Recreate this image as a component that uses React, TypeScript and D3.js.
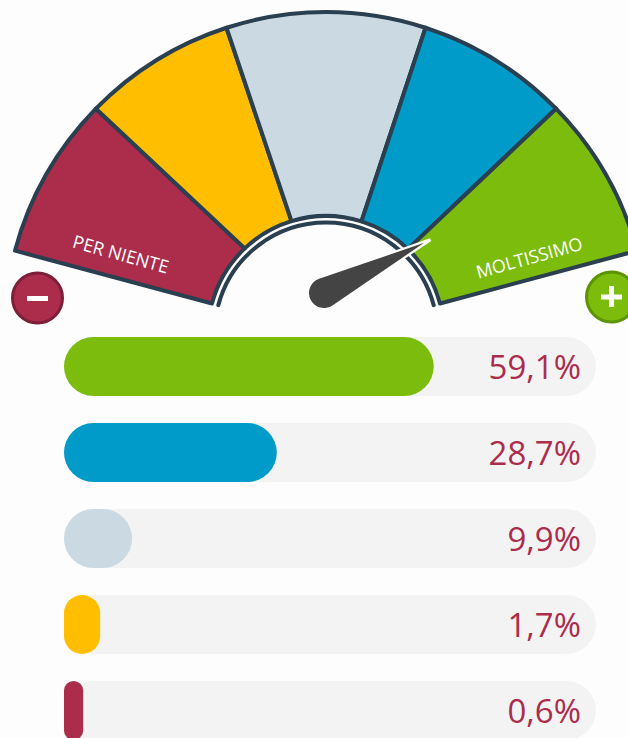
import React from "react";
import * as d3 from "d3";

const outerBoundaries = [-75, -45.6, -18, 18, 45.6, 75];
const innerBoundaries = [-75, -43.5, -17, 17.5, 44, 75];
const sliceColors = ["#ab2c4b", "#ffbf00", "#cbd9e3", "#009bc8", "#7cbc0c"];
const barValues = ["59,1%", "28,7%", "9,9%", "1,7%", "0,6%"];
const barFill = [69.5, 40, 12.8, 6.8, 3.6];
const barColors = ["#7cbc0c", "#009bc8", "#cbd9e3", "#ffbf00", "#ab2c4b"];
const needleAngle = 63.4;

const W = 628, H = 738;
const cx = 326, cy = 334, R = 322, r0 = 118, r1 = 111.5;
const font = "'Open Sans', sans-serif";
const rad = (d: number) => ((d - 90) * Math.PI) / 180;
const x = d3.scaleLinear().domain([0, 100]).range([0, 532]);
const y = d3.scaleBand<number>().domain(d3.range(5)).range([337, 740]).paddingInner(27 / 86).paddingOuter(0).align(0);

function slicePath(i: number) {
  const a0 = rad(outerBoundaries[i]), a1 = rad(outerBoundaries[i + 1]);
  const b0 = rad(innerBoundaries[i]), b1 = rad(innerBoundaries[i + 1]);
  const p = d3.path();
  p.moveTo(R * Math.cos(a0), R * Math.sin(a0));
  p.arc(0, 0, R, a0, a1);
  p.lineTo(r0 * Math.cos(b1), r0 * Math.sin(b1));
  p.arc(0, 0, r0, b1, b0, true);
  p.closePath();
  return p.toString();
}

function innerRing() {
  const p = d3.path();
  const a = rad(-75);
  p.moveTo(r1 * Math.cos(a), r1 * Math.sin(a));
  p.arc(0, 0, r1, a, rad(75));
  return p.toString();
}

function needlePath(r: number, len: number) {
  const beta = Math.acos(r / len);
  const a = { x: r * Math.cos(beta), y: r * Math.sin(beta) };
  return `M${len},0L${a.x},${a.y}A${r},${r} 0 1 1 ${a.x},${-a.y}Z`;
}

export default function App() {
  const band = y.bandwidth();
  return (
    <svg width={W} height={H} viewBox={`0 0 ${W} ${H}`} style={{ position: "absolute", left: 0, top: 0, display: "block" }}>
      <rect width={W} height={H} fill="#fdfdfd" />
      <g transform={`translate(${cx},${cy})`}>
        {sliceColors.map((c, i) => (
          <path key={i} d={slicePath(i)} fill={c} stroke="#2a3f4f" strokeWidth={4} strokeLinejoin="round" />
        ))}
        <path d={innerRing()} fill="none" stroke="#2a3f4f" strokeWidth={4} strokeLinecap="round" />
      </g>
      <text transform={`translate(119,260.5) rotate(15.5)`} textAnchor="middle" fontFamily={font} fontSize={18} fill="#fff">PER NIENTE</text>
      <text transform={`translate(531,264) rotate(-15.5)`} textAnchor="middle" fontFamily={font} fontSize={18} fill="#fff">MOLTISSIMO</text>
      <g transform={`translate(324,293) rotate(${needleAngle - 90})`}>
        <path d={needlePath(15, 119)} fill="#fff" stroke="#fff" strokeWidth={3} strokeLinejoin="miter" />
        <path d={needlePath(15, 112)} fill="#444444" />
      </g>
      <circle cx={37.5} cy={298} r={25} fill="#ab2c4b" stroke="#7e1f39" strokeWidth={3} />
      <rect x={27} y={296} width={21} height={5} fill="#fff" />
      <circle cx={611.5} cy={297} r={25} fill="#7cbc0c" stroke="#5d9402" strokeWidth={3} />
      <rect x={601} y={294.5} width={21} height={5} fill="#fff" />
      <rect x={609} y={286} width={5} height={21} fill="#fff" />
      {barValues.map((v, i) => {
        const w = x(barFill[i]);
        const yy = y(i)!;
        const rr = Math.min(w / 2, band / 2);
        return (
          <g key={i}>
            <rect x={64} y={yy} width={532} height={band} rx={band / 2} fill="#f3f3f3" />
            <rect x={64} y={yy} width={w} height={band} rx={rr} ry={rr} fill={barColors[i]} />
            <text x={581} y={yy + band / 2 + 12.5} textAnchor="end" fontFamily={font} fontSize={33} fill="#ab2c4b">{v}</text>
          </g>
        );
      })}
    </svg>
  );
}
